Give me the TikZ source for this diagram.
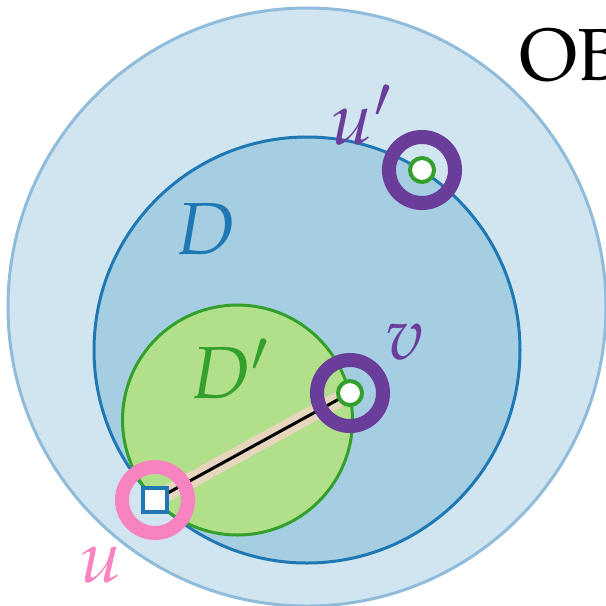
\documentclass[tikz,border=0pt]{standalone}
\usepackage[T1]{fontenc}
\usepackage{mathpazo}
\definecolor{obfill}{HTML}{D1E5F0}
\definecolor{obedge}{HTML}{8FBCDB}
\definecolor{dfill}{HTML}{A6CEE3}
\definecolor{dedge}{HTML}{1F78B4}
\definecolor{dpfill}{HTML}{B2DF8A}
\definecolor{dpedge}{HTML}{33A02C}
\definecolor{ringpurple}{HTML}{6A3D9A}
\definecolor{ringpink}{HTML}{F784C1}
\definecolor{bandtan}{HTML}{E6D6BE}
\tikzset{
  ring/.style={circle,draw=#1,line width=0.14cm,minimum size=0.66cm,inner sep=0pt},
  pt/.style={circle,draw=dpedge,fill=white,line width=0.04cm,minimum size=0.24cm,inner sep=0pt},
  sq/.style={rectangle,draw=dedge,fill=white,line width=0.04cm,minimum size=0.24cm,inner sep=0pt},
  lbl/.style={font=\fontsize{21}{25}\selectfont,inner sep=0pt}
}
\begin{document}
\begin{tikzpicture}[x=0.01cm,y=-0.01cm]
 \useasboundingbox (0,0) rectangle (606,605);
 \filldraw[fill=obfill,draw=obedge,line width=0.03cm] (307,307) circle (299);
 \filldraw[fill=dfill,draw=dedge,line width=0.03cm] (307,350) circle (213);
 \filldraw[fill=dpfill,draw=dpedge,line width=0.03cm] (237.5,420) circle (115);
 \coordinate (u) at (155,500);
 \coordinate (v) at (350,393);
 \coordinate (up) at (422,170);
 \draw[bandtan,line width=0.16cm] (u)--(v);
 \draw[black,line width=0.03cm] (u)--(v);
 \node[ring=ringpurple] (upring) at (up) {};
 \node[ring=ringpurple] (vring) at (v) {};
 \node[ring=ringpink] (uring) at (u) {};
 \node[pt] (uppt) at (up) {};
 \node[pt] (vpt) at (v) {};
 \node[sq] (usq) at (u) {};
 \node[lbl,text=ringpurple] (uplbl) at (362,115) {$u'$};
 \node[lbl,text=ringpurple] (vlbl) at (405,342) {$v$};
 \node[lbl,text=ringpink] (ulbl) at (101,565) {$u$};
 \node[lbl,text=dedge] (dlbl) at (206,229) {$D$};
 \node[lbl,text=dpedge] (dplbl) at (230,369) {$D'$};
 \node[lbl,anchor=base west] (oblbl) at (519,80) {OB};
\end{tikzpicture}
\end{document}
